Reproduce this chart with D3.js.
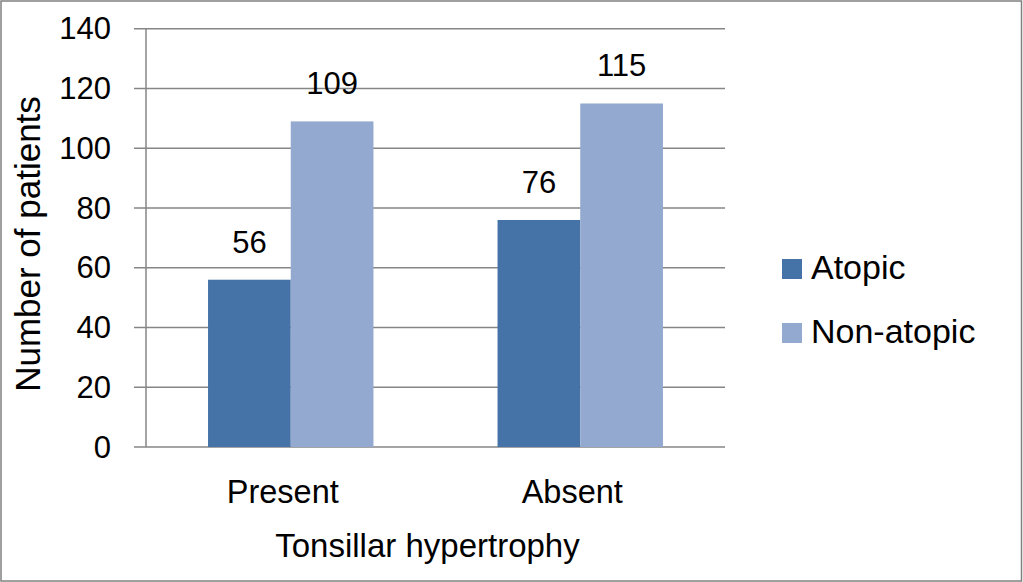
<!DOCTYPE html>
<html>
<head>
<meta charset="utf-8">
<script src="https://cdn.jsdelivr.net/npm/d3@7"></script>
<style>
    body { margin: 0; background: #fff; }
    text { font-family: "Liberation Sans", Arial, Helvetica, sans-serif; fill: #000; }
</style>
</head>
<body>
<div id="chart"></div>
<script>
let categories = ["Present", "Absent"];
let seriesNames = ["Atopic", "Non-atopic"];
let atopic = [56, 76];
let nonAtopic = [109, 115];
let yTicks = [0, 20, 40, 60, 80, 100, 120, 140];
let colors = ["#4572a7", "#93a9cf"];

let width = 1023, height = 582;
let plot = {left: 146, right: 725, top: 28.8, bottom: 447};

let data = categories.map(function (c, i) {
    return {category: c, values: [atopic[i], nonAtopic[i]]};
});

let svg = d3.select("#chart")
    .append("svg")
    .attr("width", width)
    .attr("height", height);

// outer frame
svg.append("rect")
    .attr("x", 1)
    .attr("y", 1)
    .attr("width", width - 2.5)
    .attr("height", height - 2)
    .attr("fill", "#fff")
    .attr("stroke", "#808080")
    .attr("stroke-width", 1.5);

let y = d3.scaleLinear()
    .domain([0, 140])
    .range([plot.bottom, plot.top]);

let gap = 1.5 / 3.5;
let x0 = d3.scaleBand()
    .domain(categories)
    .range([plot.left, plot.right])
    .paddingInner(gap)
    .paddingOuter(gap / 2);

let x1 = d3.scaleBand()
    .domain(seriesNames)
    .range([0, x0.bandwidth()]);

// gridlines
svg.append("g")
    .selectAll("line")
    .data(yTicks)
    .join("line")
    .attr("x1", plot.left - 12)
    .attr("x2", plot.right)
    .attr("y1", d => y(d))
    .attr("y2", d => y(d))
    .attr("stroke", "#868686")
    .attr("stroke-width", 1.5);

// y axis line
svg.append("line")
    .attr("x1", plot.left)
    .attr("x2", plot.left)
    .attr("y1", y(140))
    .attr("y2", y(0))
    .attr("stroke", "#868686")
    .attr("stroke-width", 1.5);

// y tick labels
svg.append("g")
    .selectAll("text")
    .data(yTicks)
    .join("text")
    .attr("x", 111)
    .attr("y", d => y(d))
    .attr("dy", "0.34em")
    .attr("text-anchor", "end")
    .style("font-size", "31px")
    .text(d => d);

// bars
let groups = svg.append("g")
    .selectAll("g")
    .data(data)
    .join("g")
    .attr("transform", d => "translate(" + x0(d.category) + ",0)");

groups.selectAll("rect")
    .data(d => d.values.map((v, i) => ({key: seriesNames[i], value: v, idx: i})))
    .join("rect")
    .attr("x", d => x1(d.key))
    .attr("width", x1.bandwidth())
    .attr("y", d => y(d.value))
    .attr("height", d => y(0) - y(d.value))
    .attr("fill", d => colors[d.idx]);

// value labels
groups.selectAll("text")
    .data(d => d.values.map((v, i) => ({key: seriesNames[i], value: v})))
    .join("text")
    .attr("x", d => x1(d.key) + x1.bandwidth() / 2)
    .attr("y", d => y(d.value) - 27)
    .attr("text-anchor", "middle")
    .style("font-size", "31px")
    .text(d => d.value);

// category labels
svg.append("g")
    .selectAll("text")
    .data(categories)
    .join("text")
    .attr("x", d => x0(d) + x0.bandwidth() / 2 - 8)
    .attr("y", 503)
    .attr("text-anchor", "middle")
    .style("font-size", "32.5px")
    .text(d => d);

// axis titles
svg.append("text")
    .attr("x", (plot.left + plot.right) / 2 - 8)
    .attr("y", 557)
    .attr("text-anchor", "middle")
    .style("font-size", "33px")
    .text("Tonsillar hypertrophy");

svg.append("text")
    .attr("transform", "translate(40,244) rotate(-90)")
    .attr("text-anchor", "middle")
    .style("font-size", "35px")
    .text("Number of patients");

// legend
let legend = svg.append("g")
    .selectAll("g")
    .data(seriesNames)
    .join("g")
    .attr("transform", (d, i) => "translate(782," + (259 + i * 64) + ")");

legend.append("rect")
    .attr("width", 20)
    .attr("height", 20)
    .attr("fill", (d, i) => colors[i]);

legend.append("text")
    .attr("x", 29)
    .attr("y", 19.5)
    .style("font-size", "34px")
    .text(d => d);
</script>
</body>
</html>
